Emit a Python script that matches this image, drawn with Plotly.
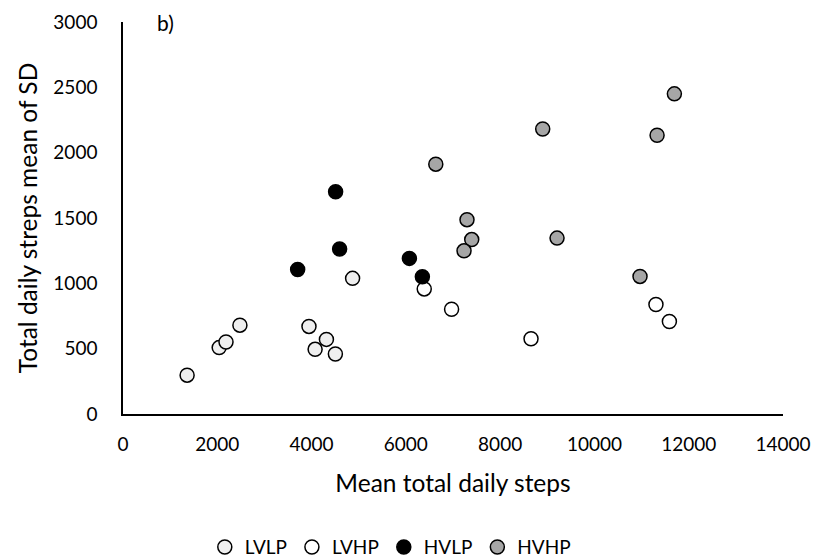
import plotly.graph_objects as go

# LVLP
lvlp_x = [1360, 2040, 2185, 2480, 3945, 4075, 4315, 4505, 4870]
lvlp_y = [297, 508, 551, 680, 670, 495, 571, 459, 1038]
# LVHP
lvhp_x = [6390, 6970, 8655, 11305, 11590]
lvhp_y = [957, 802, 576, 838, 708]
# HVLP
hvlp_x = [3705, 4510, 4595, 6075, 6350]
hvlp_y = [1106, 1701, 1262, 1191, 1051]
# HVHP
hvhp_x = [6635, 7297, 7397, 7234, 8903, 9207, 10967, 11329, 11696]
hvhp_y = [1912, 1487, 1335, 1249, 2181, 1346, 1053, 2133, 2450]

FONT = "Lato"

fig = go.Figure()
series = [
    ("LVLP", lvlp_x, lvlp_y, "#efefef"),
    ("LVHP", lvhp_x, lvhp_y, "#ffffff"),
    ("HVLP", hvlp_x, hvlp_y, "#000000"),
    ("HVHP", hvhp_x, hvhp_y, "#a6a6a6"),
]
for name, xs, ys, col in series:
    fig.add_trace(go.Scatter(
        x=xs, y=ys, mode="markers", name=name,
        marker=dict(size=14, color=col, line=dict(color="black", width=1.5)),
    ))

fig.update_layout(
    width=827, height=560,
    margin=dict(l=123, r=44, t=22, b=146, autoexpand=False),
    paper_bgcolor="white", plot_bgcolor="white",
    font=dict(family=FONT, size=19, color="black"),
    showlegend=True,
    legend=dict(orientation="h", x=0.405, xanchor="center",
                yref="container", y=0.023, yanchor="middle",
                font=dict(size=19), itemwidth=30, tracegroupgap=0),
    xaxis=dict(range=[0, 14000], dtick=2000, tickformat="d", showgrid=False,
               zeroline=False, showline=True, linecolor="black", linewidth=1.5,
               ticks="", ticklabelstandoff=12, automargin=False,
               title=dict(text="Mean total daily steps", standoff=21,
                          font=dict(size=24.5)),
               tickfont=dict(size=19)),
    yaxis=dict(range=[0, 3000], dtick=500, showgrid=False, zeroline=False,
               showline=True, linecolor="black", linewidth=1.5, ticks="",
               ticklabelstandoff=20, automargin=False,
               title=dict(text="Total daily streps mean of SD", standoff=9,
                          font=dict(size=24.5)),
               tickfont=dict(size=19)),
    annotations=[dict(text="b)", xref="paper", yref="paper", x=0.048, y=1.0,
                      xanchor="left", yanchor="middle", showarrow=False,
                      font=dict(size=21, family=FONT))],
)

fig.write_html("out.html")
